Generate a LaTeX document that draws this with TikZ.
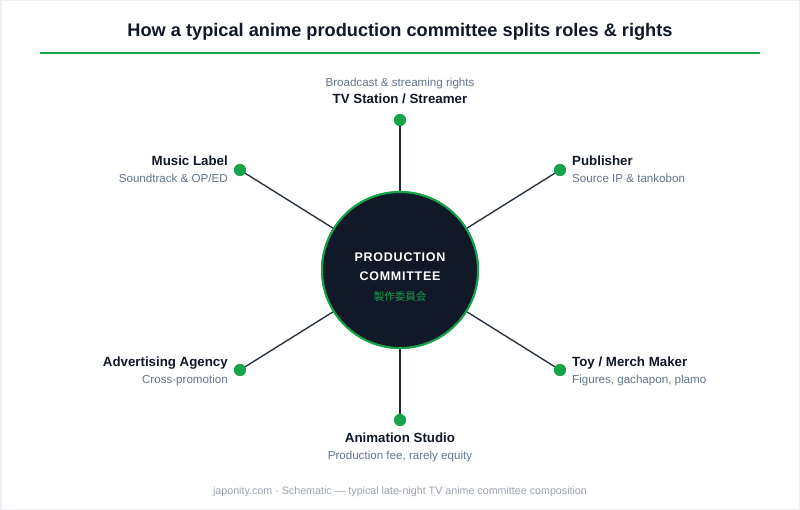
\documentclass[tikz,border=0pt]{standalone}
\usepackage{fontspec}
\setmainfont{Liberation Sans}
\newfontfamily\cjk{Noto Sans CJK JP}
\definecolor{ink}{HTML}{111827}
\definecolor{navy}{HTML}{111827}
\definecolor{grn}{HTML}{16A34A}
\definecolor{sub}{HTML}{64748B}
\definecolor{foot}{HTML}{9CA3AF}
\definecolor{spoke}{HTML}{1F2937}
\definecolor{frame}{HTML}{EEF0F3}
\tikzset{
  role/.style={font=\fontsize{13.3}{15}\selectfont\bfseries, text=ink, inner sep=0pt},
  note/.style={font=\fontsize{11.6}{13}\selectfont, text=sub, inner sep=0pt},
  dot/.style={circle, fill=grn, minimum size=12pt, inner sep=0pt},
  spokeline/.style={draw=spoke, line width=1.3pt},
  hubstyle/.style={circle, fill=navy, draw=grn, line width=2pt, minimum size=156pt, inner sep=0pt},
}
\begin{document}
\begin{tikzpicture}[x=1pt,y=-1pt]
\useasboundingbox (0,0) rectangle (800,510);
\fill[white] (0,0) rectangle (800,510);
\draw[frame, line width=1.5pt] (0.75,0.75) rectangle (799.25,509.25);
% title
\node[font=\fontsize{18.2}{21}\selectfont\bfseries, text=ink] (title) at (400,31.5) {How a typical anime production committee splits roles \& rights};
\draw[grn, line width=2pt] (40,53) -- (760,53);
% hub and dots
\node[hubstyle] (hub) at (400,270) {};
\node[dot] (dtv) at (400,120) {};
\node[dot] (dmus) at (240,170) {};
\node[dot] (dpub) at (560,170) {};
\node[dot] (dadv) at (240,370) {};
\node[dot] (dtoy) at (560,370) {};
\node[dot] (dani) at (400,420) {};
\foreach \d in {dtv,dmus,dpub,dadv,dtoy,dani}{
  \draw[spokeline] (hub) -- (\d);
}
% redraw hub and dots over the spokes
\node[hubstyle] at (400,270) {};
\foreach \d in {dtv,dmus,dpub,dadv,dtoy,dani}{
  \fill[grn] (\d) circle (6);
}
% hub text
\node[font=\fontsize{12.5}{14}\selectfont\bfseries\addfontfeatures{LetterSpace=6}, text=white] (hp) at (400,257) {PRODUCTION};
\node[font=\fontsize{12.5}{14}\selectfont\bfseries\addfontfeatures{LetterSpace=6}, text=white] (hc) at (400,276) {COMMITTEE};
\node[font=\fontsize{10.5}{12}\selectfont\cjk, text=grn] (hj) at (400,296.5) {製作委員会};
% labels
\node[note] (ntv) at (400,83.5) {Broadcast \& streaming rights};
\node[role] (rtv) at (400,99) {TV Station / Streamer};
\node[role, anchor=east] (rmus) at (228,161) {Music Label};
\node[note, anchor=east] (nmus) at (228,178.5) {Soundtrack \& OP/ED};
\node[role, anchor=west] (rpub) at (572,161) {Publisher};
\node[note, anchor=west] (npub) at (572,178.5) {Source IP \& tankobon};
\node[role, anchor=east] (radv) at (228,363) {Advertising Agency};
\node[note, anchor=east] (nadv) at (228,380.5) {Cross-promotion};
\node[role, anchor=west] (rtoy) at (572,363) {Toy / Merch Maker};
\node[note, anchor=west] (ntoy) at (572,380.5) {Figures, gachapon, plamo};
\node[role] (rani) at (400,438) {Animation Studio};
\node[note] (nani) at (400,456.5) {Production fee, rarely equity};
% footer
\node[font=\fontsize{10.7}{12}\selectfont, text=foot] (footer) at (400,492) {japonity.com · Schematic — typical late-night TV anime committee composition};
\end{tikzpicture}
\end{document}
